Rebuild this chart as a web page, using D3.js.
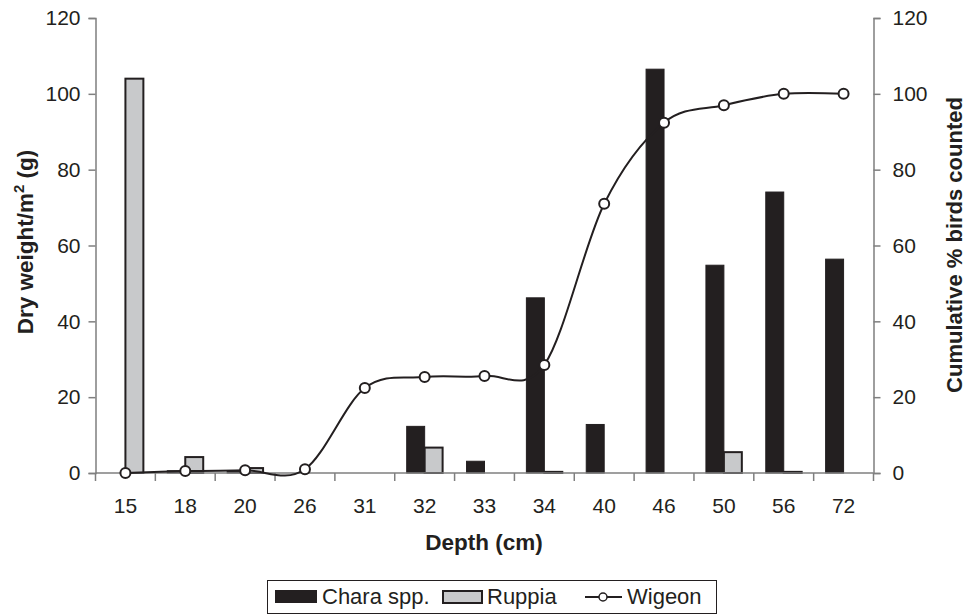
<!DOCTYPE html>
<html>
<head>
<meta charset="utf-8">
<script src="https://cdn.jsdelivr.net/npm/d3@7"></script>
<style>
  body { margin: 0; background: #fff; }
  svg { font-family: "Liberation Sans", Arial, sans-serif; }
</style>
</head>
<body>
<div id="chart"></div>
<script>
// depth categories and values
var depths = ["15", "18", "20", "26", "31", "32", "33", "34", "40", "46", "50", "56", "72"];
var chara  = [0, 0.6, 0.5, 0, 0, 12.3, 3.1, 46.2, 12.8, 106.5, 54.8, 74.1, 56.4];
var ruppia = [104, 4.2, 1.3, 0, 0, 6.7, 0, 0.3, 0, 0, 5.5, 0.3, 0];
var wigeon = [0, 0.5, 0.7, 1.0, 22.4, 25.3, 25.6, 28.5, 71, 92.4, 97, 100, 100];
var yTicks = [0, 20, 40, 60, 80, 100, 120];

var width = 966, height = 614;
var mLeft = 95.5, mRight = 873.5, mTop = 18, mBottom = 473;
var axisColor = "#7f7f7f", dark = "#231f20", light = "#c8c9cb";

var svg = d3.select("#chart").append("svg")
    .attr("width", width)
    .attr("height", height);

var x = d3.scaleBand().domain(depths).range([mLeft, mRight]).padding(0);
var y = d3.scaleLinear().domain([0, 120]).range([mBottom, mTop]);
var bw = x.bandwidth() * 0.3;

// bars
var g = svg.append("g");
g.selectAll("rect.chara")
  .data(depths)
  .enter().append("rect")
    .attr("class", "chara")
    .attr("x", function(d) { return x(d) + x.bandwidth() / 2 - bw; })
    .attr("y", function(d, i) { return y(chara[i]); })
    .attr("width", bw)
    .attr("height", function(d, i) { return y(0) - y(chara[i]); })
    .attr("fill", dark)
    .attr("stroke", dark)
    .attr("stroke-width", function(d, i) { return chara[i] > 0 ? 1 : 0; });

g.selectAll("rect.ruppia")
  .data(depths)
  .enter().append("rect")
    .attr("class", "ruppia")
    .attr("x", function(d) { return x(d) + x.bandwidth() / 2; })
    .attr("y", function(d, i) { return y(ruppia[i]); })
    .attr("width", bw)
    .attr("height", function(d, i) { return y(0) - y(ruppia[i]); })
    .attr("fill", light)
    .attr("stroke", dark)
    .attr("stroke-width", function(d, i) { return ruppia[i] > 0 ? 2 : 0; });

// axes
var xg = svg.append("g").attr("transform", "translate(0," + mBottom + ")");
xg.append("line")
  .attr("x1", mLeft).attr("x2", mRight)
  .attr("stroke", axisColor).attr("stroke-width", 1.5);
xg.selectAll("line.tick")
  .data(d3.range(depths.length + 1))
  .enter().append("line")
    .attr("class", "tick")
    .attr("x1", function(i) { return mLeft + i * x.step(); })
    .attr("x2", function(i) { return mLeft + i * x.step(); })
    .attr("y1", 0).attr("y2", 8)
    .attr("stroke", axisColor).attr("stroke-width", 1.5);
xg.selectAll("text")
  .data(depths)
  .enter().append("text")
    .attr("x", function(d) { return x(d) + x.bandwidth() / 2; })
    .attr("y", 40)
    .attr("text-anchor", "middle")
    .attr("font-size", 21)
    .attr("fill", dark)
    .text(function(d) { return d; });

var yl = svg.append("g").attr("transform", "translate(" + mLeft + ",0)")
  .call(d3.axisLeft(y).tickValues(yTicks).tickSize(7).tickPadding(8));
var yr = svg.append("g").attr("transform", "translate(" + mRight + ",0)")
  .call(d3.axisRight(y).tickValues(yTicks).tickSize(7).tickPadding(12));
[yl, yr].forEach(function(a) {
  a.select(".domain").attr("stroke", axisColor).attr("stroke-width", 1.5);
  a.selectAll(".tick line").attr("stroke", axisColor).attr("stroke-width", 1.5);
  a.selectAll(".tick text")
    .attr("font-size", 21)
    .attr("fill", dark)
    .attr("font-family", "Liberation Sans, Arial, sans-serif");
});

// axis titles
svg.append("text")
  .attr("x", 484).attr("y", 550)
  .attr("text-anchor", "middle")
  .attr("font-size", 22.5).attr("font-weight", "bold").attr("fill", dark)
  .text("Depth (cm)");

var lt = svg.append("text")
  .attr("transform", "translate(33,242) rotate(-90)")
  .attr("text-anchor", "middle")
  .attr("font-size", 22.5).attr("font-weight", "bold").attr("fill", dark);
lt.append("tspan").text("Dry weight/m");
lt.append("tspan").attr("dy", -9).attr("font-size", 15).text("2");
lt.append("tspan").attr("dy", 9).text(" (g)");

svg.append("text")
  .attr("transform", "translate(962,245) rotate(-90)")
  .attr("text-anchor", "middle")
  .attr("font-size", 22).attr("font-weight", "bold").attr("fill", dark)
  .text("Cumulative % birds counted");

// wigeon line
var line = d3.line()
    .x(function(d, i) { return x(depths[i]) + x.bandwidth() / 2; })
    .y(function(d) { return y(d); })
    .curve(d3.curveCardinal.tension(0));

svg.append("path")
  .datum(wigeon)
  .attr("d", line)
  .attr("fill", "none")
  .attr("stroke", dark)
  .attr("stroke-width", 2);

svg.selectAll("circle.wig")
  .data(wigeon)
  .enter().append("circle")
    .attr("class", "wig")
    .attr("cx", function(d, i) { return x(depths[i]) + x.bandwidth() / 2; })
    .attr("cy", function(d) { return y(d); })
    .attr("r", 5)
    .attr("fill", "#fff")
    .attr("stroke", dark)
    .attr("stroke-width", 2);

// legend
var leg = svg.append("g");
leg.append("rect")
  .attr("x", 267.5).attr("y", 580.5)
  .attr("width", 449).attr("height", 33)
  .attr("fill", "#fff").attr("stroke", dark).attr("stroke-width", 1);
leg.append("rect")
  .attr("x", 275).attr("y", 590).attr("width", 42).attr("height", 13)
  .attr("fill", dark);
leg.append("text")
  .attr("x", 322).attr("y", 604).attr("font-size", 22).attr("fill", dark)
  .text("Chara spp.");
leg.append("rect")
  .attr("x", 443).attr("y", 591).attr("width", 39).attr("height", 12)
  .attr("fill", light).attr("stroke", dark).attr("stroke-width", 2);
leg.append("text")
  .attr("x", 487).attr("y", 604).attr("font-size", 22).attr("fill", dark)
  .text("Ruppia");
leg.append("line")
  .attr("x1", 585).attr("x2", 622).attr("y1", 597).attr("y2", 597)
  .attr("stroke", dark).attr("stroke-width", 2);
leg.append("circle")
  .attr("cx", 603).attr("cy", 597).attr("r", 4)
  .attr("fill", "#fff").attr("stroke", dark).attr("stroke-width", 1.5);
leg.append("text")
  .attr("x", 627).attr("y", 604).attr("font-size", 22).attr("fill", dark)
  .text("Wigeon");
</script>
</body>
</html>
